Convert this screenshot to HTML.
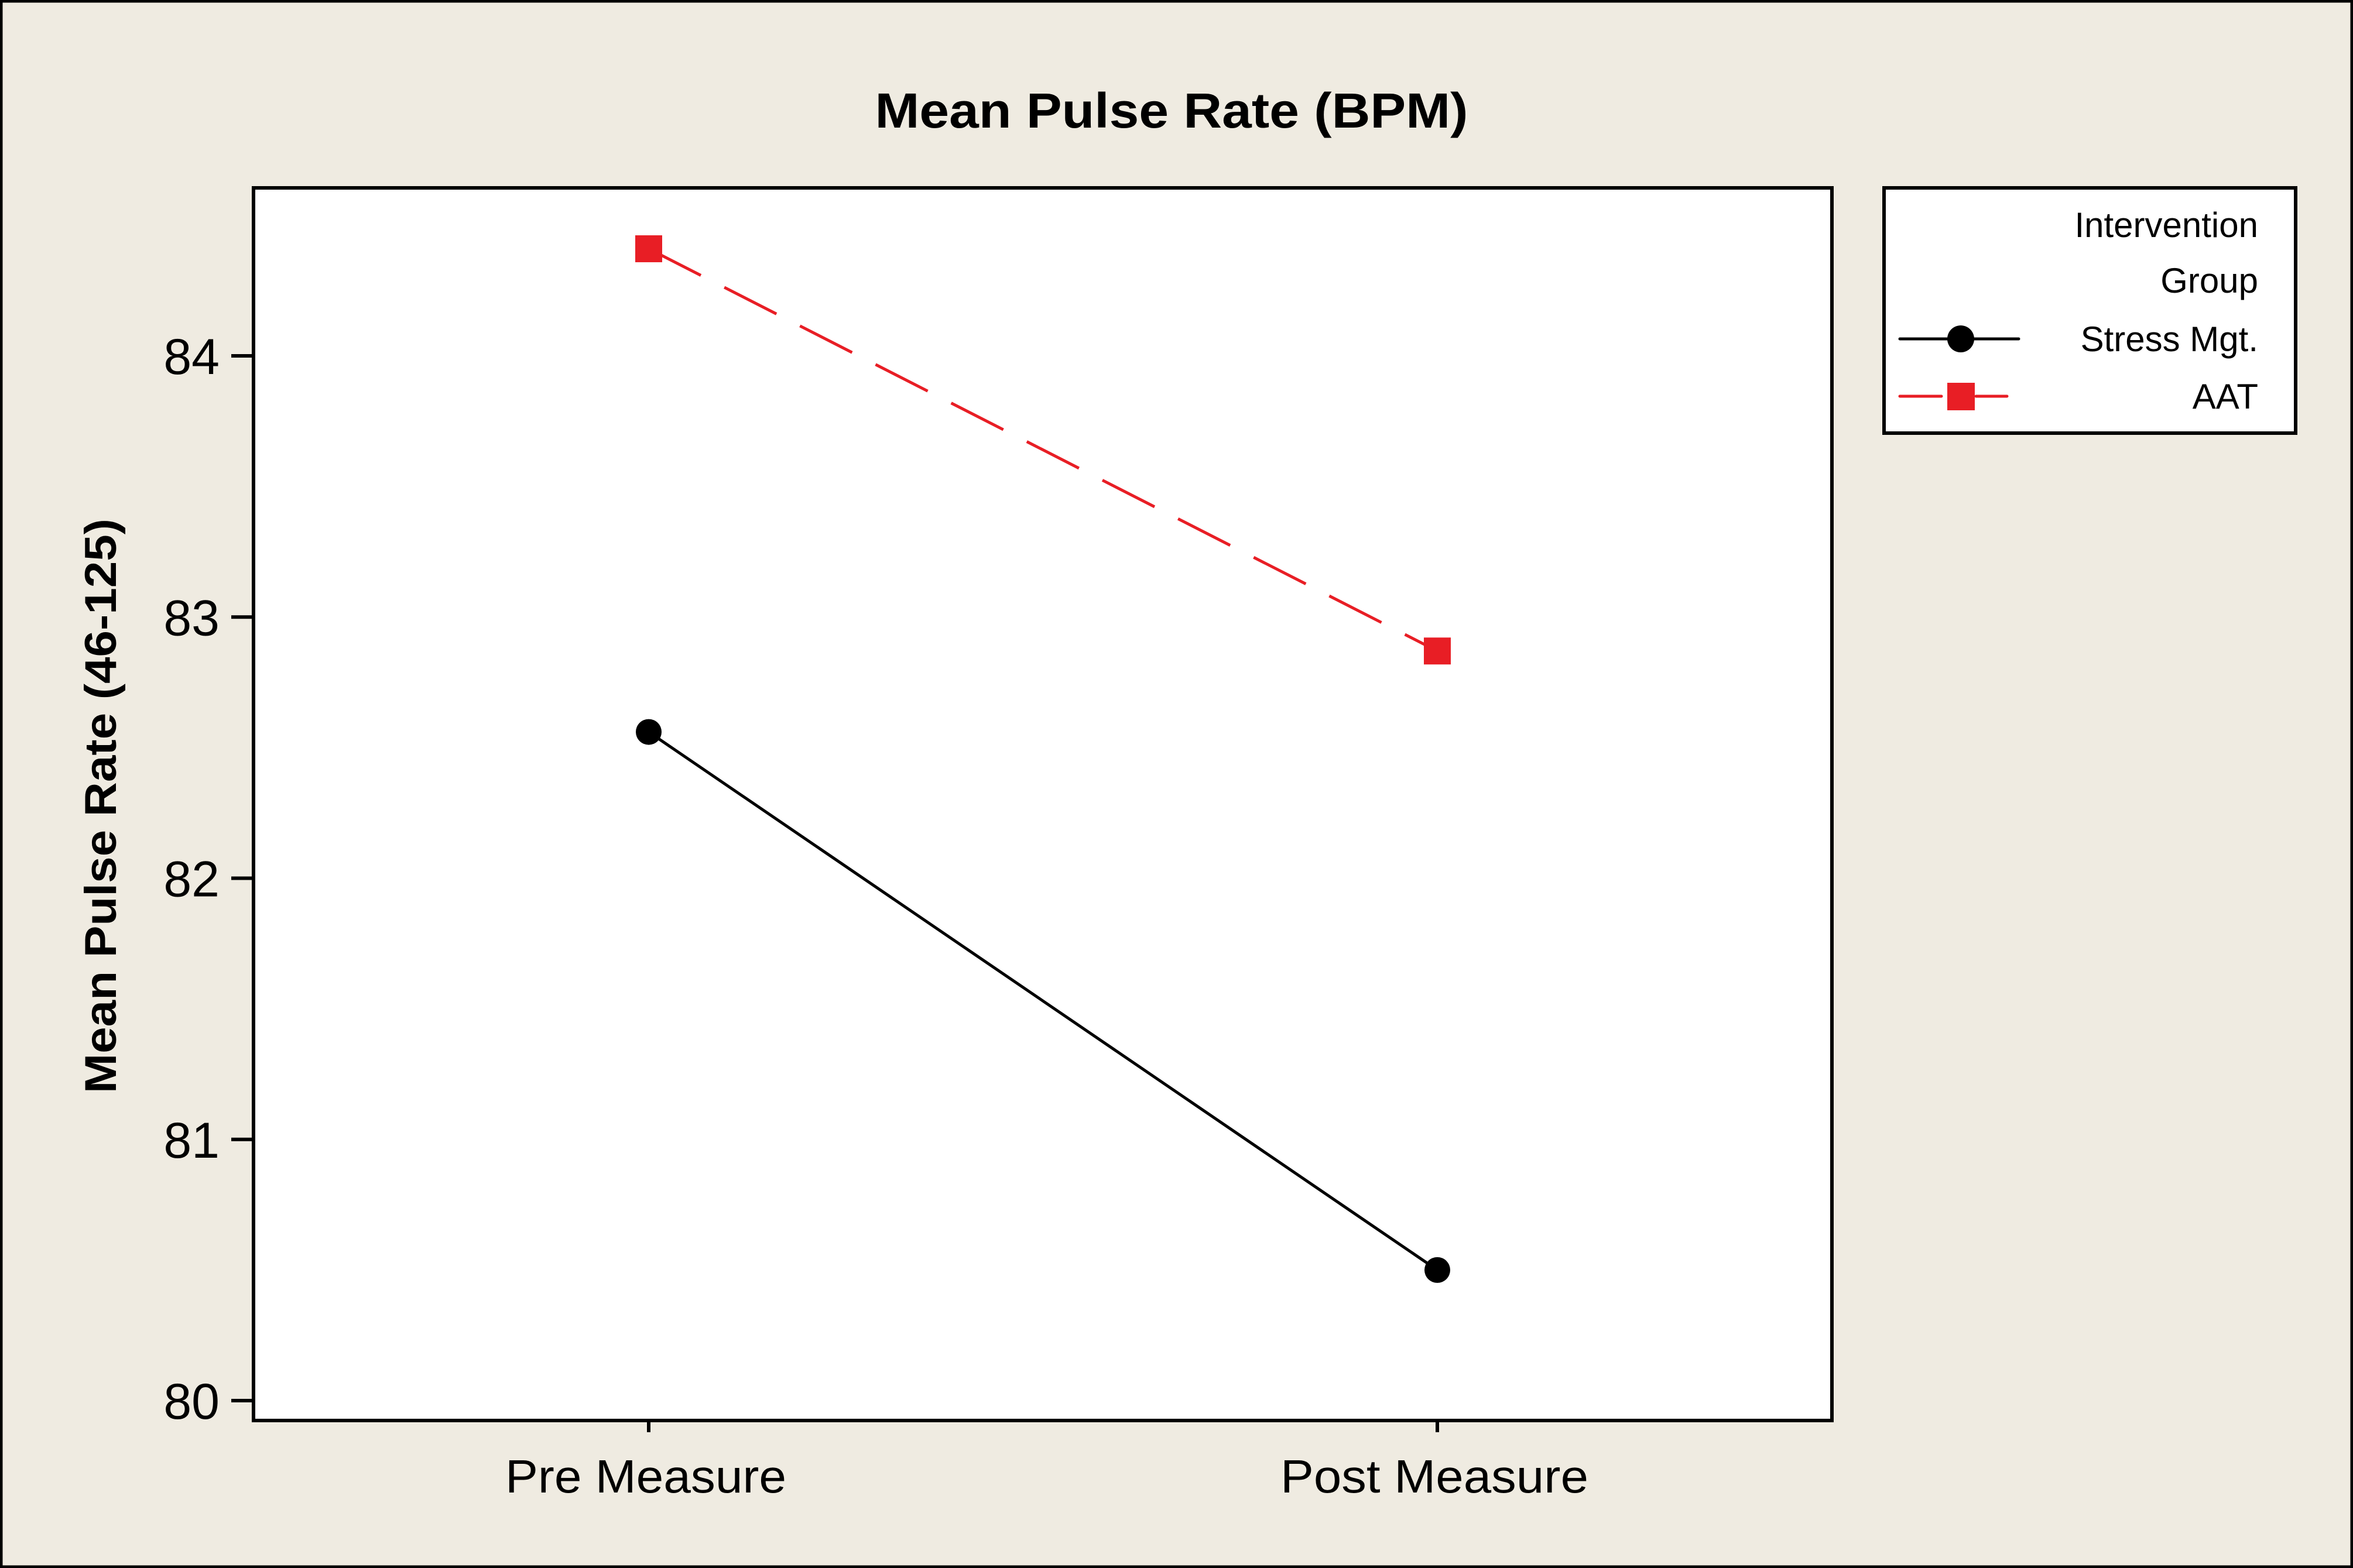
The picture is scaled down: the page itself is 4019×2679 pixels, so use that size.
<!DOCTYPE html>
<html><head><meta charset="utf-8"><style>
html,body{margin:0;padding:0;background:#efebe1;}
svg{display:block;}
text{font-family:"Liberation Sans",sans-serif;fill:#000;}
</style></head><body>
<svg id="chart" width="4019" height="2679" viewBox="0 0 4019 2679" xmlns="http://www.w3.org/2000/svg">
<rect x="2" y="2" width="4015" height="2675" fill="#efebe1" stroke="#000" stroke-width="5"/>
<text x="2001" y="218" font-size="84" font-weight="bold" text-anchor="middle" textLength="1013" lengthAdjust="spacingAndGlyphs">Mean Pulse Rate (BPM)</text>
<rect x="433" y="321" width="2696" height="2106" fill="#fff" stroke="#000" stroke-width="6"/>
<text transform="translate(198,1377) rotate(-90)" font-size="76" font-weight="bold" text-anchor="middle" textLength="982" lengthAdjust="spacingAndGlyphs">Mean Pulse Rate (46-125)</text>
<g id="yaxis"></g>
<g id="xaxis"></g>
<g id="series"></g>
<g>
<rect x="3218" y="321" width="703" height="419" fill="#fff" stroke="#000" stroke-width="6"/>
<text x="3857" y="405" font-size="60" text-anchor="end">Intervention</text>
<text x="3857" y="500" font-size="60" text-anchor="end">Group</text>
<g>
<line x1="3245" y1="579" x2="3448" y2="579" stroke="#000" stroke-width="5" stroke-linecap="round"/>
<circle cx="3349" cy="579" r="23" fill="#000"/>
<text x="3857" y="600" font-size="60" text-anchor="end">Stress Mgt.</text>
</g>
<g>
<line x1="3245" y1="677" x2="3316" y2="677" stroke="#e81e25" stroke-width="5" stroke-linecap="round"/>
<line x1="3375" y1="677" x2="3428" y2="677" stroke="#e81e25" stroke-width="5" stroke-linecap="round"/>
<rect x="3326" y="654" width="47" height="47" fill="#e81e25"/>
<text x="3857" y="698" font-size="60" text-anchor="end">AAT</text>
</g>
</g>
</svg>
<script>
const categories = ["Pre Measure", "Post Measure"];
const stressValues = [82.56, 80.50];
const aatValues = [84.41, 82.87];
const yTicks = [80, 81, 82, 83, 84];

const NS = "http://www.w3.org/2000/svg";
function yScale(v){ return 2393 + (v - 80) * (608 - 2393) / 4; }
function xScale(i){ return 1108 + i * (2455 - 1108); }
function mk(tag, attrs, parent){
  const e = document.createElementNS(NS, tag);
  for (const k in attrs) e.setAttribute(k, attrs[k]);
  parent.appendChild(e);
  return e;
}
const yaxis = document.getElementById("yaxis");
yTicks.forEach(t => {
  const y = yScale(t);
  const tk = mk("line", {x1: 395, x2: 433, y1: y, y2: y, stroke: "#000", "stroke-width": 6}, yaxis);
  
  
  const lb = mk("text", {x: 375, y: y + 31, "font-size": 86, "text-anchor": "end"}, yaxis);
  
  
  lb.textContent = t;
});
const xaxis = document.getElementById("xaxis");
const xw = [480, 526];
categories.forEach((c, i) => {
  const x = xScale(i);
  const tk = mk("line", {x1: x, x2: x, y1: 2427, y2: 2447, stroke: "#000", "stroke-width": 6}, xaxis);
  
  
  const lb = mk("text", {x: x - 5, y: 2550, "font-size": 80, "text-anchor": "middle", textLength: xw[i], lengthAdjust: "spacingAndGlyphs"}, xaxis);
  
  
  lb.textContent = c;
});
const series = document.getElementById("series");
const l1 = mk("line", {x1: xScale(0), y1: yScale(stressValues[0]), x2: xScale(1), y2: yScale(stressValues[1]), stroke: "#000", "stroke-width": 5}, series);


const l2 = mk("line", {x1: xScale(0), y1: yScale(aatValues[0]), x2: xScale(1), y2: yScale(aatValues[1]), stroke: "#e81e25", "stroke-width": 5, "stroke-dasharray": "100 45"}, series);


stressValues.forEach((v, i) => {
  const c = mk("circle", {cx: xScale(i), cy: yScale(v), r: 22, fill: "#000"}, series);
  
  
});
aatValues.forEach((v, i) => {
  const r = mk("rect", {x: xScale(i) - 23, y: yScale(v) - 23, width: 46, height: 46, fill: "#e81e25"}, series);
  
  
});
</script>
</body></html>
